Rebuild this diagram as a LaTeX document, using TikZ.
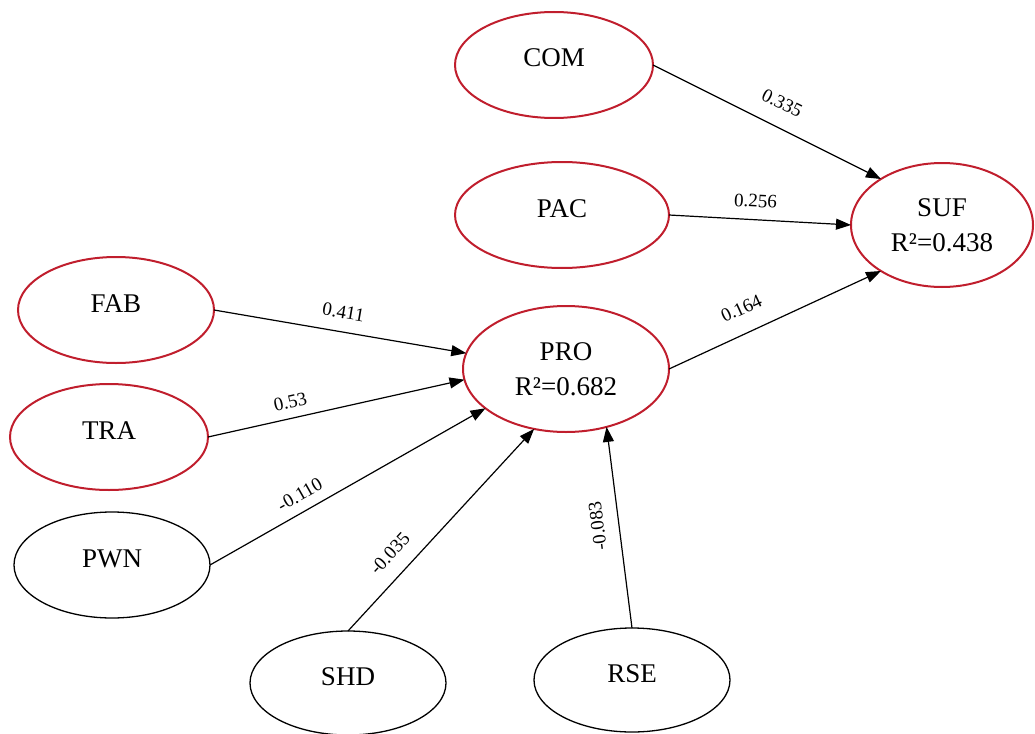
\documentclass[tikz,border=0pt]{standalone}
\usepackage{fontspec}
\setmainfont{Liberation Serif}
\usetikzlibrary{arrows.meta,shapes.geometric}
\definecolor{plsred}{RGB}{192,30,45}
\begin{document}
\begin{tikzpicture}[x=1pt,y=-1pt,
  lvbase/.style={ellipse, draw, line width=1.3pt, inner sep=0pt, outer sep=0pt,
    font=\fontsize{27}{35}\selectfont},
  lv/.style={lvbase, text height=4pt, text depth=0pt, minimum width=196pt, minimum height=106pt},
  redlv/.style={lv, draw=plsred, line width=2pt},
  redlv2/.style={lvbase, draw=plsred, line width=2pt, align=center},
  conn/.style={-{Triangle[length=15pt,width=11pt]}, line width=1.2pt},
  coef/.style={font=\fontsize{19}{22}\selectfont, inner sep=0pt, sloped}
]
\useasboundingbox (0,0) rectangle (1035,733);

\node[redlv, minimum width=198pt] (COM) at (554,65) {COM};
\node[redlv, minimum width=214pt] (PAC) at (562,215) {PAC};
\node[redlv2, minimum width=182pt, minimum height=124pt] (SUF) at (942,225) {SUF\\R²=0.438};
\node[redlv] (FAB) at (116,310) {FAB};
\node[redlv2, minimum width=206pt, minimum height=126pt] (PRO) at (566,369) {PRO\\R²=0.682};
\node[redlv, minimum width=198pt] (TRA) at (109,437) {TRA};
\node[lv] (PWN) at (112,565) {PWN};
\node[lv, minimum height=104pt] (SHD) at (348,683) {SHD};
\node[lv, minimum height=104pt] (RSE) at (632,680) {RSE};

\draw[conn] (COM.east) -- (SUF.143) node[coef, pos=0.52, above=16.6pt] {0.335};
\draw[conn] (PAC.east) -- (SUF.west) node[coef, pos=0.47, above=11.6pt] {0.256};
\draw[conn] (PRO.east) -- (SUF.217) node[coef, pos=0.39, above=17.6pt] {0.164};
\draw[conn] (FAB.east) -- (PRO.171) node[coef, pos=0.5, above=12.6pt] {0.411};
\draw[conn] (TRA.east) -- (PRO.186) node[coef, pos=0.335, above=9.6pt] {0.53};
\draw[conn] (PWN.east) -- (PRO.206) node[coef, pos=0.356, above=9.6pt] {-0.110};
\draw[conn] (SHD.north) -- (PRO.242) node[coef, pos=0.31, above=14.6pt] {-0.035};
\draw[conn] (RSE.north) -- (PRO.305) node[coef, allow upside down, pos=0.52, above=14.3pt] {-0.083};
\end{tikzpicture}
\end{document}
